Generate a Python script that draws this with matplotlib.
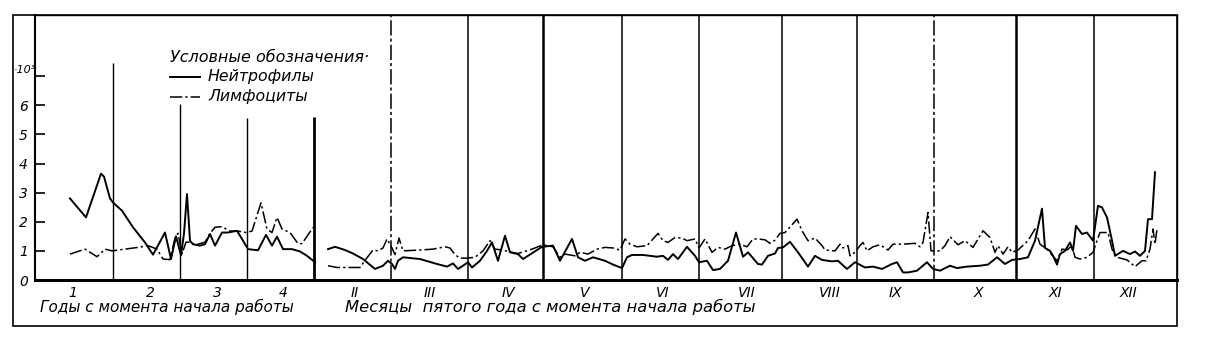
import matplotlib
matplotlib.use('Agg')
import matplotlib.pyplot as plt
from matplotlib.lines import Line2D
from matplotlib.patches import Rectangle

# position along the time axis (chart units, the axis runs from 35 to 1177)
year_labels = ['1', '2', '3', '4']
year_label_pos = [73, 150, 217, 283]
year_edges = [113, 180, 247, 314]
year_edge_tops = [7.45, 6.05, 5.55, 5.6]

month_labels = ['II', 'III', 'IV', 'V', 'VI', 'VII', 'VIII', 'IX', 'X', 'XI', 'XII']
month_label_pos = [355, 430, 508, 585, 663, 747, 830, 895, 978, 1055, 1128]
month_edges = [391, 468, 543, 622, 699, 782, 857, 934, 1016, 1094]

# Нейтрофилы, thousands - first four years
neut_years_x = [70, 86, 101, 104, 110, 113, 122, 133, 145, 153, 165, 171, 176, 181, 184, 187,
                190, 193, 200, 205, 210, 215, 222, 228, 237, 242, 248, 258, 266, 272, 277, 283,
                292, 300, 307, 315]
neut_years_y = [2.8, 2.15, 3.65, 3.55, 2.8, 2.66, 2.38, 1.81, 1.29, 0.87, 1.63, 0.72, 1.5, 0.85, 1.6, 2.95,
                1.35, 1.23, 1.18, 1.23, 1.58, 1.18, 1.63, 1.63, 1.69, 1.41, 1.06, 1.02, 1.55, 1.18, 1.49, 1.06,
                1.06, 0.98, 0.83, 0.61]
# Лимфоциты, thousands - first four years
lymph_years_x = [70, 85, 97, 105, 112, 138, 148, 157, 163, 170, 175, 178, 182, 186, 190, 195,
                 200, 205, 210, 215, 222, 230, 238, 246, 252, 261, 267, 272, 277, 282, 290, 298,
                 302, 308, 313]
lymph_years_y = [0.89, 1.06, 0.8, 1.06, 1.0, 1.12, 1.18, 1.06, 0.72, 0.70, 1.45, 1.6, 0.9, 1.3, 1.3, 1.2,
                 1.25, 1.3, 1.6, 1.81, 1.83, 1.68, 1.68, 1.63, 1.68, 2.65, 1.75, 1.63, 2.15, 1.75, 1.63, 1.25,
                 1.25, 1.55, 1.8]

# fifth year, by months
neut_months_x = [328, 335, 345, 353, 363, 375, 383, 388, 392, 395, 398, 403, 420, 437, 447, 453,
                 458, 463, 468, 472, 480, 487, 492, 498, 505, 510, 518, 523, 542, 553, 560, 572,
                 578, 585, 593, 605, 613, 622, 627, 632, 643, 657, 663, 668, 673, 678, 687, 695,
                 699, 707, 713, 720, 728, 736, 743, 748, 758, 762, 768, 775, 778, 783, 790, 798,
                 808, 815, 822, 832, 838, 847, 855, 865, 873, 882, 892, 897, 903, 908, 917, 927,
                 933, 940, 950, 957, 967, 980, 988, 997, 1005, 1012, 1020, 1028, 1035, 1042, 1045, 1050,
                 1053, 1057, 1060, 1065, 1070, 1073, 1076, 1082, 1087, 1093, 1098, 1102, 1107, 1112, 1115, 1123,
                 1130, 1135, 1140, 1145, 1148, 1152, 1155]
neut_months_y = [1.06, 1.14, 1.03, 0.91, 0.72, 0.38, 0.49, 0.66, 0.55, 0.38, 0.66, 0.78, 0.72, 0.55, 0.46, 0.57,
                 0.38, 0.49, 0.61, 0.43, 0.66, 1.0, 1.29, 0.66, 1.52, 0.95, 0.89, 0.72, 1.14, 1.18, 0.66, 1.41,
                 0.78, 0.66, 0.78, 0.66, 0.53, 0.41, 0.78, 0.86, 0.86, 0.8, 0.83, 0.69, 0.89, 0.72, 1.14, 0.83,
                 0.61, 0.66, 0.34, 0.38, 0.66, 1.63, 0.8, 0.95, 0.55, 0.53, 0.83, 0.91, 1.1, 1.12, 1.31, 0.95,
                 0.46, 0.83, 0.69, 0.64, 0.66, 0.38, 0.61, 0.43, 0.46, 0.38, 0.55, 0.61, 0.26, 0.26, 0.32, 0.61,
                 0.38, 0.32, 0.49, 0.41, 0.46, 0.49, 0.53, 0.78, 0.55, 0.69, 0.72, 0.78, 1.35, 2.45, 1.1, 1.0,
                 0.83, 0.53, 0.89, 1.0, 1.29, 1.0, 1.86, 1.58, 1.63, 1.35, 2.55, 2.49, 2.15, 1.35, 0.83, 1.0,
                 0.89, 0.98, 0.83, 1.0, 2.09, 2.09, 3.7]
lymph_months_x = [328, 337, 347, 360, 366, 373, 378, 383, 387, 392, 395, 399, 403, 420, 433, 445,
                  450, 455, 460, 467, 475, 483, 490, 495, 502, 512, 518, 532, 543, 553, 560, 565,
                  575, 580, 588, 597, 605, 613, 620, 625, 630, 637, 647, 658, 663, 668, 675, 682,
                  687, 695, 699, 705, 712, 718, 725, 732, 740, 747, 753, 758, 765, 770, 775, 780,
                  785, 797, 802, 808, 815, 822, 825, 835, 840, 843, 848, 850, 855, 860, 863, 867,
                  873, 880, 888, 893, 903, 915, 920, 923, 928, 931, 940, 945, 950, 958, 965, 973,
                  983, 990, 995, 998, 1003, 1008, 1012, 1018, 1028, 1035, 1040, 1047, 1057, 1062, 1067, 1072,
                  1075, 1080, 1087, 1093, 1097, 1100, 1108, 1112, 1117, 1127, 1135, 1142, 1146, 1150, 1153, 1155,
                  1157]
lymph_months_y = [0.49, 0.43, 0.43, 0.43, 0.72, 1.03, 1.0, 1.10, 1.41, 1.1, 0.87, 1.44, 1.0, 1.03, 1.06, 1.14,
                  1.1, 0.87, 0.75, 0.75, 0.78, 1.0, 1.35, 1.06, 1.03, 0.95, 0.91, 1.06, 1.21, 1.14, 0.78, 0.89,
                  0.83, 0.95, 0.89, 1.06, 1.12, 1.1, 1.03, 1.41, 1.23, 1.14, 1.18, 1.6, 1.35, 1.29, 1.46, 1.44,
                  1.35, 1.41, 1.1, 1.41, 0.95, 1.12, 1.06, 1.18, 1.23, 1.14, 1.41, 1.41, 1.38, 1.26, 1.37, 1.6,
                  1.63, 2.09, 1.69, 1.35, 1.44, 1.18, 1.03, 1.0, 1.23, 1.1, 1.18, 0.83, 0.95, 1.18, 1.29, 1.0,
                  1.14, 1.21, 1.03, 1.23, 1.23, 1.26, 1.14, 1.29, 2.32, 1.0, 1.0, 1.18, 1.49, 1.21, 1.35, 1.12,
                  1.69, 1.46, 0.95, 1.18, 0.89, 1.14, 0.95, 1.03, 1.35, 1.75, 1.23, 1.06, 0.66, 1.06, 1.03, 1.18,
                  0.78, 0.72, 0.78, 0.95, 1.35, 1.63, 1.63, 1.06, 0.78, 0.69, 0.46, 0.66, 0.66, 1.06, 1.75, 1.23,
                  1.75]

W, H = 1218, 343
fig = plt.figure(figsize=(W / 100, H / 100), dpi=100)
ax = fig.add_axes([35 / W, 1 - 280 / H, (1177 - 35) / W, (280 - 15) / H])
ax.set_xlim(35, 1177)
ax.set_ylim(0, 9.1)

dashdot = (0, (8, 2, 1.5, 2))
ax.plot(neut_years_x, neut_years_y, color='black', lw=1.4)
ax.plot(neut_months_x, neut_months_y, color='black', lw=1.4)
ax.plot(lymph_years_x, lymph_years_y, color='black', lw=1.1, linestyle=dashdot)
ax.plot(lymph_months_x, lymph_months_y, color='black', lw=1.1, linestyle=dashdot)

# year separators (shortened) and month separators (full height)
ax.vlines(year_edges, 0, year_edge_tops, color='black', lw=[1.0, 1.0, 1.0, 2.0])
for m in month_edges:
    if m in (391, 934):
        ax.axvline(m, color='black', lw=1.1, linestyle=(0, (10, 2, 2, 2)))
    elif m in (543, 1016):
        ax.axvline(m, color='black', lw=1.8)
    else:
        ax.axvline(m, color='black', lw=1.1)

for s in ['top', 'right']:
    ax.spines[s].set_linewidth(1.0)
ax.spines['left'].set_linewidth(1.5)
ax.spines['bottom'].set_linewidth(2.2)

ax.set_yticks(range(0, 8))
ax.set_yticklabels(['0', '1', '2', '3', '4', '5', '6', ''], fontsize=10, style='italic')
ax.tick_params(axis='y', direction='in', length=7, width=1.2, pad=5)
ax.set_xticks(year_label_pos + month_label_pos)
ax.set_xticklabels(year_labels + month_labels, fontsize=10, style='italic')
ax.tick_params(axis='x', length=0, pad=4)
fig.text(14 / W, 1 - 70 / H, '·10³', fontsize=8, style='italic', va='center')

# captions under the axis
fig.text(40 / W, 1 - 307 / H, 'Годы с момента начала работы', fontsize=11, style='italic', va='center')
fig.text(345 / W, 1 - 307 / H, 'Месяцы  пятого года с момента начала работы', fontsize=11.8,
         style='italic', va='center')

# legend
fig.text(170 / W, 1 - 57 / H, 'Условные обозначения·', fontsize=11.5, style='italic', va='center')
fig.text(208 / W, 1 - 76 / H, 'Нейтрофилы', fontsize=11.3, style='italic', va='center')
fig.text(208 / W, 1 - 96 / H, 'Лимфоциты', fontsize=11.3, style='italic', va='center')
fig.add_artist(Line2D([170 / W, 200 / W], [1 - 77 / H] * 2, color='black', lw=1.4, transform=fig.transFigure))
fig.add_artist(Line2D([170 / W, 200 / W], [1 - 97 / H] * 2, color='black', lw=1.1, linestyle=dashdot,
                      transform=fig.transFigure))

# outer frame of the drawing
fig.add_artist(Rectangle((13 / W, 1 - 326 / H), (1177 - 13) / W, (326 - 15) / H, fill=False,
                         lw=1.2, color='black', transform=fig.transFigure))

fig.savefig('out.png', dpi=100)
